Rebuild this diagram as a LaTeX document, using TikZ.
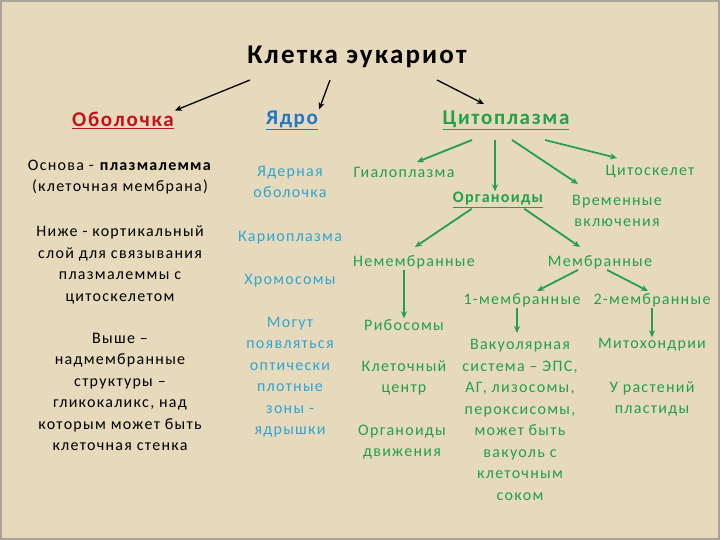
\documentclass[tikz,border=0pt]{standalone}
\usepackage{fontspec}
\setmainfont[LetterSpace=8]{Carlito}
\usetikzlibrary{arrows.meta}
\definecolor{bg}{HTML}{E6D9BC}
\definecolor{redt}{HTML}{C0141C}
\definecolor{bluet}{HTML}{1F78C4}
\definecolor{lbluet}{HTML}{2FA6CF}
\definecolor{greent}{HTML}{22A04A}
\tikzset{
 txt/.style={font=\fontsize{16}{21.5}\selectfont, align=center, inner sep=1pt},
 blk/.style={txt, text=black},
 nuc/.style={txt, text=lbluet},
 cyt/.style={txt, text=greent},
 head/.style={font=\fontsize{21}{24}\selectfont\bfseries, inner sep=1pt},
 barrow/.style={-{Stealth[length=7pt,width=6pt]}, line width=1.3pt, black},
 garrow/.style={-{Stealth[length=7pt,width=6pt]}, line width=1.8pt, greent},
}
\newcommand{\ul}[1]{\underline{#1}}
\begin{document}
\begin{tikzpicture}[x=1pt,y=-1pt]
\fill[bg] (0,0) rectangle (720,540);
\draw[gray!60!bg, line width=2pt] (1,1) rectangle (719,539);
\useasboundingbox (0,0) rectangle (720,540);
\node[head, font=\fontsize{27}{28}\selectfont\bfseries] (title) at (357,57) {Клетка эукариот};
\node[head, text=redt] (obol) at (123,120) {\ul{Оболочка}};
\node[head, text=bluet] (yadro) at (292,120) {\ul{Ядро}};
\node[head, text=greent] (cyto) at (506,120) {\ul{Цитоплазма}};
\coordinate (t1) at (250,80); \coordinate (t2) at (330,80); \coordinate (t3) at (437,80);
\coordinate (e3) at (484,104);
\draw[barrow] (t1) -- (obol.north east);
\draw[barrow] (t2) -- (yadro.north east);
\draw[barrow] (t3) -- (e3);
% left column
\node[blk] (o1) at (120,177) {Основа - \textbf{плазмалемма}\\(клеточная мембрана)};
\node[blk] (o2) at (120,265) {Ниже - кортикальный\\слой для связывания\\плазмалеммы с\\цитоскелетом};
\node[blk] (o3) at (120,392) {Выше –\\надмембранные\\структуры –\\гликокаликс, над\\которым может быть\\клеточная стенка};
% nucleus column
\node[nuc] (n1) at (290,182) {Ядерная\\оболочка};
\node[nuc] (n2) at (290,238) {Кариоплазма};
\node[nuc] (n3) at (290,281) {Хромосомы};
\node[nuc] (n4) at (290,377) {Могут\\появляться\\оптически\\плотные\\зоны -\\ядрышки};
% cytoplasm
\node[cyt] (hyal) at (404,172) {Гиалоплазма};
\node[cyt] (cytosk) at (650,172) {Цитоскелет};
\node[cyt, font=\fontsize{16}{21}\selectfont\bfseries] (org) at (498,200) {\ul{Органоиды}};
\node[cyt] (vrem) at (617,211) {Временные\\включения};
\node[cyt] (nemem) at (414,262) {Немембранные};
\node[cyt] (mem) at (600,262) {Мембранные};
\node[cyt] (m1) at (522,300) {1-мембранные};
\node[cyt] (m2) at (652,300) {2-мембранные};
\node[cyt] (rib) at (404,325) {Рибосомы};
\node[cyt] (kc) at (404,378) {Клеточный\\центр};
\node[cyt] (od) at (402,442) {Органоиды\\движения};
\node[cyt] (vak) at (520,420) {Вакуолярная\\система – ЭПС,\\АГ, лизосомы,\\пероксисомы,\\может быть\\вакуоль с\\клеточным\\соком};
\node[cyt] (mito) at (652,345) {Митохондрии};
\node[cyt] (plast) at (652,399) {У растений\\пластиды};
% green arrows
\coordinate (c1) at (472,140); \coordinate (c2) at (495,140); \coordinate (c3) at (512,140); \coordinate (c4) at (545,140);
\draw[garrow] (c1) -- (417,162) coordinate (h1);
\draw[garrow] (c2) -- (org.north -| c2);
\draw[garrow] (c3) -- (578,184);
\draw[garrow] (c4) -- (617,158);
\draw[garrow] (org.south west) ++(20,0) -- (415,247);
\draw[garrow] (org.south east) ++(-20,0) -- (580,247);
\draw[garrow] (nemem.south -| rib) -- (rib.north);
\draw[garrow] (mem.south) ++(-22,0) -- (537,291);
\draw[garrow] (mem.south) ++(7,0) -- (648,291);
\draw[garrow] (m1.south -| vak) ++(-3,0) -- ++(0,25);
\draw[garrow] (m2.south) -- (mito.north);
\end{tikzpicture}
\end{document}
